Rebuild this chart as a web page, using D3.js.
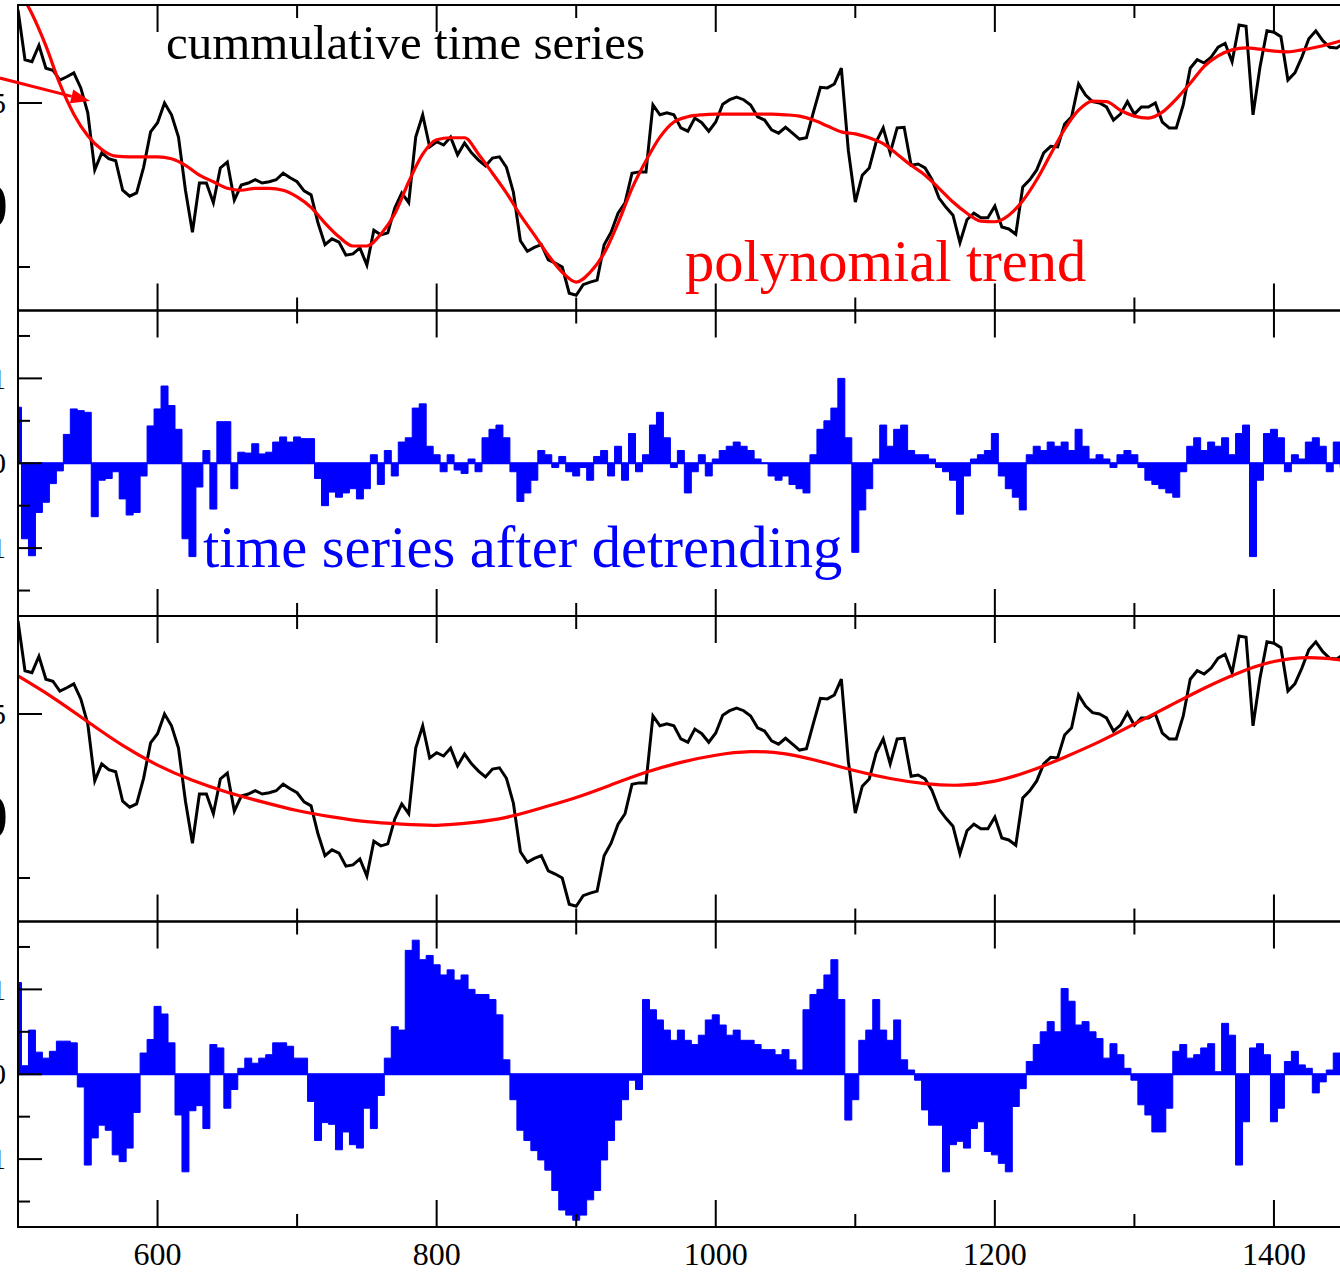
<!DOCTYPE html>
<html>
<head>
<meta charset="utf-8">
<script src="https://cdn.jsdelivr.net/npm/d3@7"></script>
<style>
  body { margin: 0; background: #fff; }
  svg { display: block; }
  text { font-family: "Liberation Serif", "Times New Roman", serif; }
</style>
</head>
<body>
<div id="chart"></div>
<script>
// sampled every 5 time steps, starting at t = 500
var seriesStart = 500, seriesStep = 5;

// cumulative time series
var cumSeries = [
  6.42, 5.66, 5.63, 5.88, 5.53, 5.50, 5.35, 5.40, 5.46, 5.23,
  4.85, 3.98, 4.24, 4.15, 4.12, 3.67, 3.58, 3.63, 4.02, 4.56,
  4.70, 5.00, 4.82, 4.48, 3.67, 3.03, 3.78, 3.78, 3.48, 4.01,
  4.10, 3.52, 3.75, 3.78, 3.83, 3.78, 3.80, 3.83, 3.93, 3.86,
  3.80, 3.66, 3.60, 3.17, 2.84, 2.93, 2.88, 2.68, 2.70, 2.79,
  2.53, 3.06, 2.99, 3.02, 3.40, 3.63, 3.48, 4.48, 4.82, 4.33,
  4.41, 4.36, 4.48, 4.21, 4.39, 4.24, 4.13, 4.04, 4.16, 4.18,
  4.02, 3.64, 2.90, 2.74, 2.80, 2.84, 2.61, 2.56, 2.50, 2.10,
  2.07, 2.23, 2.27, 2.30, 2.84, 3.03, 3.32, 3.48, 3.93, 3.95,
  3.95, 4.97, 4.82, 4.85, 4.82, 4.62, 4.57, 4.77, 4.70, 4.57,
  4.71, 4.98, 5.05, 5.09, 5.05, 4.97, 4.79, 4.74, 4.59, 4.54,
  4.63, 4.54, 4.45, 4.47, 4.86, 5.24, 5.23, 5.29, 5.53, 4.28,
  3.49, 3.90, 4.01, 4.41, 4.62, 4.24, 4.62, 4.63, 4.05, 4.07,
  4.01, 3.83, 3.55, 3.41, 3.29, 2.87, 3.22, 3.32, 3.25, 3.25,
  3.43, 3.11, 3.08, 3.00, 3.72, 3.83, 3.98, 4.24, 4.34, 4.33,
  4.68, 4.79, 5.29, 5.12, 5.02, 5.00, 4.94, 4.74, 4.83, 5.02,
  4.83, 4.94, 4.94, 5.00, 4.71, 4.62, 4.62, 4.97, 5.53, 5.66,
  5.61, 5.70, 5.85, 5.91, 5.63, 6.19, 6.17, 4.82, 5.55, 6.10,
  6.08, 6.01, 5.35, 5.46, 5.70, 5.98, 6.10, 5.95, 5.85, 5.84,
  5.91
];

// high order polynomial trend, every 10 steps from 500
var polyStart = 500, polyStep = 10;
var polyTrend = [
  6.74, 6.36, 5.87, 5.29, 4.83, 4.50, 4.29, 4.19, 4.18, 4.18,
  4.18, 4.15, 4.05, 3.90, 3.80, 3.70, 3.67, 3.70, 3.70, 3.67,
  3.57, 3.41, 3.17, 2.96, 2.82, 2.82, 3.00, 3.31, 3.80, 4.22,
  4.44, 4.47, 4.47, 4.22, 3.93, 3.63, 3.29, 2.99, 2.68, 2.42,
  2.27, 2.42, 2.71, 3.17, 3.70, 4.12, 4.48, 4.71, 4.79, 4.82,
  4.83, 4.83, 4.83, 4.83, 4.83, 4.82, 4.80, 4.74, 4.65, 4.56,
  4.53, 4.47, 4.38, 4.22, 4.05, 3.90, 3.70, 3.49, 3.32, 3.20,
  3.19, 3.29, 3.51, 3.83, 4.22, 4.60, 4.89, 5.03, 5.02, 4.89,
  4.80, 4.77, 4.86, 5.06, 5.30, 5.56, 5.72, 5.81, 5.84, 5.82,
  5.79, 5.78, 5.81, 5.85, 5.90, 5.96
];

// low order trend (third panel), every 25 steps from 500
var lowStart = 500, lowStep = 25;
var lowTrend = [
  5.58, 5.26, 4.88, 4.51, 4.21, 3.98, 3.80, 3.66, 3.52, 3.43,
  3.35, 3.32, 3.29, 3.34, 3.41, 3.57, 3.72, 3.92, 4.12, 4.27,
  4.38, 4.44, 4.41, 4.28, 4.13, 4.01, 3.93, 3.90, 3.96, 4.12,
  4.34, 4.57, 4.85, 5.12, 5.40, 5.64, 5.82, 5.88, 5.82
];

// series after removing the polynomial trend (second panel)
var detrended = [
  0.66, -0.89, -1.09, -0.58, -0.46, -0.24, -0.09, 0.34, 0.64, 0.62,
  0.60, -0.63, -0.20, -0.18, -0.10, -0.42, -0.61, -0.58, -0.15, 0.44,
  0.64, 0.91, 0.68, 0.40, -0.89, -1.10, -0.28, 0.15, -0.54, 0.49,
  0.49, -0.30, 0.13, 0.12, 0.23, 0.11, 0.13, 0.25, 0.31, 0.25,
  0.31, 0.29, 0.29, -0.18, -0.50, -0.34, -0.40, -0.35, -0.30, -0.42,
  -0.30, 0.10, -0.25, 0.15, -0.15, 0.25, 0.30, 0.65, 0.70, 0.20,
  0.10, -0.10, 0.10, -0.08, -0.12, 0.05, -0.10, 0.30, 0.40, 0.45,
  0.30, -0.10, -0.45, -0.35, -0.20, 0.15, 0.10, -0.05, 0.08, -0.10,
  -0.15, -0.05, -0.20, 0.08, 0.15, -0.15, 0.20, -0.20, 0.35, -0.10,
  0.10, 0.45, 0.60, 0.30, -0.05, 0.15, -0.35, -0.10, 0.10, -0.15,
  0.05, 0.15, 0.20, 0.25, 0.20, 0.15, 0.05, 0.00, -0.15, -0.20,
  -0.15, -0.25, -0.30, -0.35, 0.10, 0.40, 0.50, 0.65, 1.00, 0.30,
  -1.05, -0.55, -0.30, 0.05, 0.45, 0.20, 0.40, 0.45, 0.15, 0.10,
  0.10, 0.05, -0.05, -0.10, -0.20, -0.60, -0.15, 0.05, 0.10, 0.15,
  0.35, -0.15, -0.30, -0.40, -0.55, 0.10, 0.20, 0.15, 0.25, 0.20,
  0.25, 0.15, 0.40, 0.20, 0.05, 0.10, 0.05, -0.05, 0.10, 0.15,
  0.10, -0.05, -0.20, -0.25, -0.30, -0.35, -0.40, -0.10, 0.20, 0.30,
  0.15, 0.25, 0.20, 0.30, 0.10, 0.35, 0.45, -1.10, -0.20, 0.35,
  0.40, 0.30, -0.10, 0.10, 0.05, 0.25, 0.30, 0.20, -0.10, 0.25,
  -0.05
];

// series after removing the low order trend (bottom panel)
var detrendedLow = [
  1.08, 0.10, 0.52, 0.26, 0.19, 0.27, 0.39, 0.39, 0.37, -0.15,
  -1.07, -0.75, -0.60, -0.66, -0.95, -1.03, -0.87, -0.45, 0.25, 0.41,
  0.80, 0.71, 0.37, -0.48, -1.15, -0.43, -0.37, -0.64, 0.35, 0.31,
  -0.40, -0.18, 0.07, 0.19, 0.13, 0.19, 0.23, 0.37, 0.37, 0.33,
  0.19, 0.19, -0.32, -0.78, -0.57, -0.59, -0.89, -0.68, -0.83, -0.87,
  -0.40, -0.64, -0.25, 0.19, 0.56, 0.52, 1.46, 1.58, 1.35, 1.40,
  1.29, 1.17, 1.23, 1.11, 1.17, 1.00, 0.94, 0.94, 0.88, 0.70,
  0.17, -0.30, -0.66, -0.78, -0.90, -1.01, -1.13, -1.37, -1.60, -1.66,
  -1.72, -1.66, -1.48, -1.37, -1.01, -0.78, -0.54, -0.30, -0.07, -0.18,
  0.88, 0.76, 0.64, 0.52, 0.40, 0.52, 0.40, 0.35, 0.46, 0.64,
  0.70, 0.58, 0.46, 0.52, 0.40, 0.40, 0.35, 0.29, 0.29, 0.23,
  0.29, 0.17, 0.05, 0.76, 0.94, 1.00, 1.17, 1.35, 0.88, -0.54,
  -0.30, 0.40, 0.52, 0.88, 0.52, 0.40, 0.64, 0.17, 0.05, -0.07,
  -0.42, -0.60, -0.60, -1.15, -0.83, -0.79, -0.87, -0.64, -0.56, -0.91,
  -0.95, -1.05, -1.15, -0.38, -0.17, 0.15, 0.35, 0.50, 0.62, 0.50,
  1.01, 0.86, 0.58, 0.62, 0.50, 0.42, 0.19, 0.36, 0.23, 0.07,
  -0.07, -0.36, -0.48, -0.68, -0.68, -0.40, 0.27, 0.35, 0.19, 0.23,
  0.31, 0.36, 0.03, 0.60, 0.46, -1.07, -0.56, 0.31, 0.36, 0.23,
  -0.56, -0.40, 0.15, 0.27, 0.11, 0.07, -0.22, -0.09, 0.05, 0.25,
  0.10
];

var xMajorTicks = [600, 800, 1000, 1200, 1400];
var xMinorTicks = [500, 700, 900, 1100, 1300];
var cumTicks = [0, 2.5, 5, 7.5, 10];
var detTicks = [-1.5, -1, -0.5, 0, 0.5, 1, 1.5];

// layout
var W = 1340, H = 1272;
var left = 18, panelTop = 5, panelH = 305.5;
var majorLen = 27, minorLen = 13, yMajorLen = 24, yMinorLen = 12;

var svg = d3.select("#chart").append("svg")
    .attr("width", W)
    .attr("height", H);

var x = d3.scaleLinear().domain([500, 1450]).range([left, left + 950 * 1.3955]);
var xRight = x.range()[1] + 4;

function toPoints(arr, start, step) {
    return arr.map(function(v, i) { return { t: start + i * step, v: v }; });
}

var panels = [
    { kind: "cum", trend: polyTrend, tStart: polyStart, tStep: polyStep, curve: d3.curveMonotoneX },
    { kind: "det", data: detrended },
    { kind: "cum", trend: lowTrend, tStart: lowStart, tStep: lowStep, curve: d3.curveBasis },
    { kind: "det", data: detrendedLow }
];

panels.forEach(function(p, k) {
    var top = panelTop + k * panelH, bottom = top + panelH;
    var y = d3.scaleLinear().range([bottom, top]);
    if (p.kind === "cum") {
        y.domain([(431 - 310.5) / 65.6, (431 - 5) / 65.6]);
    } else {
        y.domain([-1.8, 1.8]);
    }

    var g = svg.append("g").attr("class", "panel");
    var clipId = "clip" + k;
    svg.append("clipPath").attr("id", clipId)
        .append("rect")
        .attr("x", left).attr("y", top)
        .attr("width", xRight - left).attr("height", panelH);

    var plot = g.append("g").attr("clip-path", "url(#" + clipId + ")");

    if (p.kind === "cum") {
        var line = d3.line()
            .x(function(d) { return x(d.t); })
            .y(function(d) { return y(d.v); });
        plot.append("path")
            .datum(toPoints(cumSeries, seriesStart, seriesStep))
            .attr("fill", "none")
            .attr("stroke", "#000")
            .attr("stroke-width", 3)
            .attr("d", line);
        plot.append("path")
            .datum(toPoints(p.trend, p.tStart, p.tStep))
            .attr("fill", "none")
            .attr("stroke", "#ff0000")
            .attr("stroke-width", 3.2)
            .attr("d", line.curve(p.curve));
    } else {
        var area = d3.area()
            .curve(d3.curveStep)
            .x(function(d) { return x(d.t); })
            .y0(y(0))
            .y1(function(d) { return y(d.v); });
        plot.append("path")
            .datum(toPoints(p.data, seriesStart, seriesStep))
            .attr("fill", "#0000ff")
            .attr("stroke", "#0000ff")
            .attr("stroke-width", 1)
            .attr("d", area);
        plot.append("line")
            .attr("x1", left).attr("x2", xRight)
            .attr("y1", y(0)).attr("y2", y(0))
            .attr("stroke", "#0000ff").attr("stroke-width", 2);
    }

    // frame
    g.append("rect")
        .attr("x", left).attr("y", top)
        .attr("width", xRight + 20 - left).attr("height", panelH)
        .attr("fill", "none").attr("stroke", "#000").attr("stroke-width", 2);

    // x ticks on top and bottom edges, pointing inward
    var ticks = xMajorTicks.map(function(t) { return { t: t, len: majorLen }; })
        .concat(xMinorTicks.map(function(t) { return { t: t, len: minorLen }; }))
        .filter(function(d) { return x(d.t) > left + 1; });
    g.selectAll(".xt-top").data(ticks).enter().append("line")
        .attr("x1", function(d) { return x(d.t); }).attr("x2", function(d) { return x(d.t); })
        .attr("y1", top).attr("y2", function(d) { return top + d.len; })
        .attr("stroke", "#000").attr("stroke-width", 2);
    g.selectAll(".xt-bot").data(ticks).enter().append("line")
        .attr("x1", function(d) { return x(d.t); }).attr("x2", function(d) { return x(d.t); })
        .attr("y1", bottom).attr("y2", function(d) { return bottom - d.len; })
        .attr("stroke", "#000").attr("stroke-width", 2);

    // y ticks
    var yt = (p.kind === "cum" ? cumTicks : detTicks).filter(function(v) {
        var py = y(v);
        return py > top + 2 && py < bottom - 2;
    });
    function isMajor(v) { return p.kind === "cum" ? v % 5 === 0 : Number.isInteger(v); }
    g.selectAll(".yt").data(yt).enter().append("line")
        .attr("x1", left).attr("x2", function(v) { return left + (isMajor(v) ? yMajorLen : yMinorLen); })
        .attr("y1", function(v) { return y(v); }).attr("y2", function(v) { return y(v); })
        .attr("stroke", "#000").attr("stroke-width", 2);
    g.selectAll(".yl").data(yt.filter(isMajor)).enter().append("text")
        .attr("x", 6)
        .attr("y", function(v) { return y(v); })
        .attr("dy", "0.34em")
        .attr("text-anchor", "end")
        .attr("font-size", 30)
        .attr("fill", "#000")
        .text(function(v) { return v; });

    if (p.kind === "cum") {
        // axis title, cut by the left border of the picture
        g.append("text")
            .attr("x", 8)
            .attr("y", top + 222)
            .attr("text-anchor", "end")
            .attr("font-size", 64)
            .attr("fill", "#000")
            .text("0");
    }
});

// annotations
svg.append("text")
    .attr("x", 166).attr("y", 59)
    .attr("font-size", 49)
    .attr("fill", "#000")
    .text("cummulative time series");

svg.append("text")
    .attr("x", 685).attr("y", 281)
    .attr("font-size", 58.5)
    .attr("fill", "#ff0000")
    .text("polynomial trend");

svg.append("text")
    .attr("x", 203).attr("y", 567)
    .attr("font-size", 58.6)
    .attr("fill", "#0000ff")
    .text("time series after detrending");

// red arrow pointing at the trend in the top panel
var yTop = d3.scaleLinear().domain([(431 - 310.5) / 65.6, (431 - 5) / 65.6]).range([panelTop + panelH, panelTop]);
var tail = [x(487), yTop(5.38)], tip = [x(551.6), yTop(5.03)];
var dx = tip[0] - tail[0], dy = tip[1] - tail[1], len = Math.sqrt(dx * dx + dy * dy);
var ux = dx / len, uy = dy / len;
var headLen = 19, headW = 7;
var base = [tip[0] - ux * headLen, tip[1] - uy * headLen];
svg.append("line")
    .attr("x1", tail[0]).attr("y1", tail[1])
    .attr("x2", base[0]).attr("y2", base[1])
    .attr("stroke", "#ff0000").attr("stroke-width", 3);
svg.append("polygon")
    .attr("points", [
        tip,
        [base[0] - uy * headW, base[1] + ux * headW],
        [base[0] + uy * headW, base[1] - ux * headW]
    ].map(function(pt) { return pt.join(","); }).join(" "))
    .attr("fill", "#ff0000");

// x tick labels under the bottom panel
svg.selectAll(".xl").data(xMajorTicks).enter().append("text")
    .attr("x", function(t) { return x(t); })
    .attr("y", 1265)
    .attr("text-anchor", "middle")
    .attr("font-size", 32)
    .attr("fill", "#000")
    .text(function(t) { return t; });
</script>
</body>
</html>
